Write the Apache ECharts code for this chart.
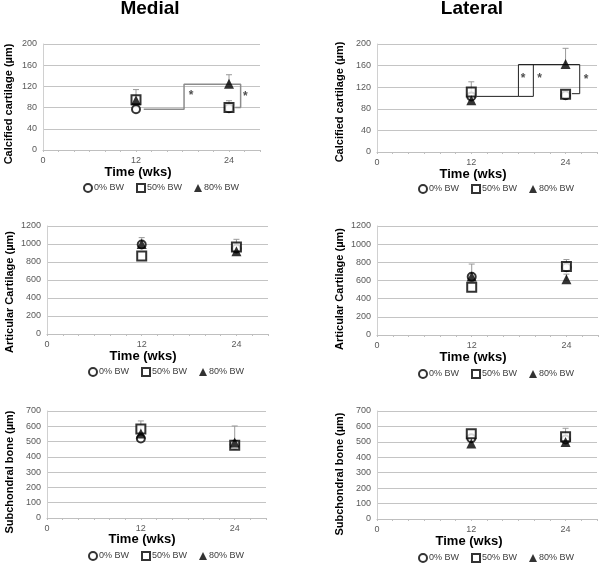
<!DOCTYPE html>
<html><head><meta charset="utf-8">
<script src="https://cdn.jsdelivr.net/npm/echarts@6/dist/echarts.min.js"></script>
<style>html,body{margin:0;padding:0;background:#fff}#c{width:600px;height:564px}</style>
</head><body><div id="c"></div><script>
// ---------- data ----------
const times = [12, 24];
const seriesNames = ['0% BW', '50% BW', '80% BW'];
const panelTitles = ['Medial', 'Lateral'];
const yAxisNames = ['Calcified cartilage (µm)', 'Calcified cartilage (µm)', 'Articular Cartilage (µm)', 'Articular Cartilage (µm)', 'Subchondral bone (µm)', 'Subchondral bone (µm)'];
const xAxisName = 'Time (wks)';
const xTickLabels = [0, 12, 24];

// Medial calcified cartilage
const medCalc0 = [77, 79];
const medCalc50 = [95, 80];
const medCalc80 = [94, 125];
const medCalcErr = [[12, 95, 114], [24, 80, 93], [24, 125, 142]];
// Lateral calcified cartilage
const latCalc0 = [103, 105];
const latCalc50 = [111, 107];
const latCalc80 = [96, 163];
const latCalcErr = [[12, 111, 130], [24, 163, 192]];
// Medial articular cartilage
const medArt0 = [995, 950];
const medArt50 = [867, 967];
const medArt80 = [1000, 919];
const medArtErr = [[12, 1000, 1071], [24, 967, 1052]];
// Lateral articular cartilage
const latArt0 = [640, 745];
const latArt50 = [527, 754];
const latArt80 = [645, 615];
const latArtErr = [[12, 645, 781], [24, 754, 831], [24, 615, 670]];
// Medial subchondral bone
const medSub0 = [520, 480];
const medSub50 = [582, 476];
const medSub80 = [552, 494];
const medSubErr = [[12, 582, 635], [24, 494, 602]];
// Lateral subchondral bone
const latSub0 = [523, 515];
const latSub50 = [552, 533];
const latSub80 = [490, 499];
const latSubErr = [[24, 533, 588]];

// significance brackets (data coords)
const medBracket = [[13, 77], [18.2, 77], [18.2, 124], [25.5, 124], [25.5, 80], [24.8, 80]];
const medStars = [[19.1, 103], [26.1, 101]];
const latBracketA = [[12.7, 103], [18.0, 103], [18.0, 162], [25.8, 162], [25.8, 108], [24.8, 108]];
const latBracketB = [[18.0, 103], [19.9, 103], [19.9, 162]];
const latStars = [[18.6, 136], [20.7, 136], [26.6, 134]];

const yMaxes = [200, 200, 1200, 1200, 700, 700];
const yIntervals = [40, 40, 200, 200, 100, 100];
const xMax = 28;

const panelData = [
  [medCalc0, medCalc50, medCalc80, medCalcErr],
  [latCalc0, latCalc50, latCalc80, latCalcErr],
  [medArt0, medArt50, medArt80, medArtErr],
  [latArt0, latArt50, latArt80, latArtErr],
  [medSub0, medSub50, medSub80, medSubErr],
  [latSub0, latSub50, latSub80, latSubErr]
];

// ---------- layout ----------
const FONT = 'Arial, "Liberation Sans", sans-serif';
const layouts = [
  {left: 43, top: 44, width: 217, height: 106, nameX: 9, nameY: 104, timeX: 138, timeY: 172, legX: 149, legY: 188},
  {left: 377, top: 44, width: 220, height: 108, nameX: 340, nameY: 102, timeX: 473, timeY: 174, legX: 484, legY: 189},
  {left: 47, top: 226, width: 221, height: 108, nameX: 10, nameY: 292, timeX: 143, timeY: 356, legX: 154, legY: 372},
  {left: 377, top: 226, width: 221, height: 109, nameX: 340, nameY: 289, timeX: 473, timeY: 357, legX: 484, legY: 374},
  {left: 47, top: 411, width: 219, height: 107, nameX: 10, nameY: 472, timeX: 142, timeY: 539, legX: 154, legY: 556},
  {left: 377, top: 411, width: 220, height: 108, nameX: 340, nameY: 474, timeX: 469, timeY: 541, legX: 484, legY: 558}
];
const titlePos = [[150, 9], [472, 9]];

const symbolStyles = [
  {symbol: 'circle', symbolSize: 8, itemStyle: {color: '#fff', borderColor: '#000', borderWidth: 2}},
  {symbol: 'rect', symbolSize: 9, itemStyle: {color: '#fff', borderColor: '#000', borderWidth: 2}},
  {symbol: 'triangle', symbolSize: 10, itemStyle: {color: '#000', borderColor: '#000', borderWidth: 0}}
];

const grids = [], xAxes = [], yAxes = [], series = [], legends = [], graphics = [];
const xTickValues = [];
for (let v = 0; v <= xMax; v += 2) xTickValues.push(v);

layouts.forEach((L, i) => {
  grids.push({left: L.left, top: L.top, width: L.width, height: L.height, containLabel: false});
  xAxes.push({
    type: 'value', gridIndex: i, min: 0, max: xMax,
    axisLine: {show: true, lineStyle: {color: '#bfbfbf', width: 1}},
    axisTick: {show: true, customValues: xTickValues, length: 2, lineStyle: {color: '#bfbfbf'}},
    axisLabel: {customValues: xTickLabels, color: '#595959', fontSize: 9, fontFamily: FONT, margin: 6},
    splitLine: {show: false}
  });
  yAxes.push({
    type: 'value', gridIndex: i, min: 0, max: yMaxes[i], interval: yIntervals[i],
    axisLine: {show: true, lineStyle: {color: '#d0d0d0', width: 1}},
    axisTick: {show: false},
    axisLabel: {color: '#595959', fontSize: 9, fontFamily: FONT, margin: 6, formatter: v => String(v)},
    splitLine: {show: true, lineStyle: {color: '#c4c4c4', width: 1}}
  });
  const d = panelData[i];
  series.push({
    type: 'custom', name: 'err' + i, xAxisIndex: i, yAxisIndex: i, z: 1,
    data: d[3], encode: {x: 0, y: [1, 2]}, silent: true,
    renderItem: (params, api) => {
      const p = api.coord([api.value(0), api.value(1)]);
      const t = api.coord([api.value(0), api.value(2)]);
      return {type: 'group', children: [
        {type: 'line', shape: {x1: p[0], y1: p[1], x2: t[0], y2: t[1]}, style: {stroke: '#9a9a9a', lineWidth: 1}},
        {type: 'line', shape: {x1: t[0] - 3, y1: t[1], x2: t[0] + 3, y2: t[1]}, style: {stroke: '#9a9a9a', lineWidth: 1}}
      ]};
    }
  });
  for (let s = 0; s < 3; s++) {
    series.push(Object.assign({
      type: 'scatter', name: seriesNames[s], xAxisIndex: i, yAxisIndex: i, z: 3 + s,
      data: times.map((t, k) => [t, d[s][k]])
    }, symbolStyles[s]));
  }
  legends.push({
    data: seriesNames, left: L.legX - 66, top: L.legY - 5, orient: 'horizontal',
    itemWidth: 8, itemHeight: 8, itemGap: 12, padding: 0, selectedMode: false,
    textStyle: {fontSize: 9, color: '#404040', fontFamily: FONT, padding: [0, 0, 0, -3]}
  });
  graphics.push({type: 'text', x: L.nameX, y: L.nameY, rotation: Math.PI / 2,
    style: {text: yAxisNames[i], font: 'bold 11px ' + FONT, fill: '#000', align: 'center', verticalAlign: 'middle'}});
  graphics.push({type: 'text', x: L.timeX, y: L.timeY,
    style: {text: xAxisName, font: 'bold 13px ' + FONT, fill: '#000', align: 'center', verticalAlign: 'middle'}});
});

panelTitles.forEach((t, i) => {
  graphics.push({type: 'text', x: titlePos[i][0], y: titlePos[i][1],
    style: {text: t, font: 'bold 19px ' + FONT, fill: '#000', align: 'center', verticalAlign: 'middle'}});
});

// brackets
function bracket(data, gi, color, width) {
  return {type: 'line', xAxisIndex: gi, yAxisIndex: gi, data: data, symbol: 'none', z: 2, silent: true,
    lineStyle: {color: color, width: width}, animation: false};
}
function stars(data, gi) {
  return {type: 'scatter', xAxisIndex: gi, yAxisIndex: gi, data: data, symbolSize: 0, z: 6, silent: true,
    label: {show: true, formatter: '*', position: 'inside', fontSize: 12, color: '#222', fontFamily: FONT, fontWeight: 'bold'}};
}
series.push(bracket(medBracket, 0, '#8c8c8c', 1.5));
series.push(stars(medStars, 0));
series.push(bracket(latBracketA, 1, '#222', 1));
series.push(bracket(latBracketB, 1, '#222', 1));
series.push(stars(latStars, 1));

const chart = echarts.init(document.getElementById('c'), null, {renderer: 'canvas'});
chart.setOption({
  animation: false,
  backgroundColor: '#fff',
  grid: grids, xAxis: xAxes, yAxis: yAxes, series: series, legend: legends, graphic: graphics
});
</script></body></html>
